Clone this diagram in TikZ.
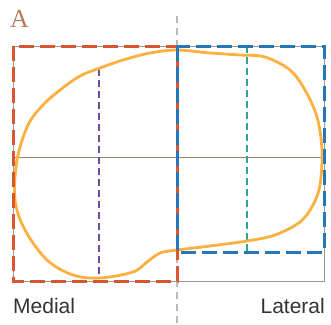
\documentclass[tikz,border=0pt]{standalone}
\usepackage{fontspec}
\setsansfont{Liberation Sans}
\newfontfamily\labelserif{Liberation Serif}
\usetikzlibrary{calc}
\definecolor{medialred}{HTML}{D9572E}
\definecolor{lateralblue}{HTML}{2677BA}
\definecolor{outlineorange}{HTML}{FBB040}
\definecolor{axisbrown}{HTML}{9E7C66}
\definecolor{medpurple}{HTML}{6B4E9B}
\definecolor{latteal}{HTML}{2FA39A}
\definecolor{labelbrown}{HTML}{B47C5C}

\begin{document}
\begin{tikzpicture}[x=1pt, y=-1pt]
    \useasboundingbox (0,0) rectangle (331,324);
    \coordinate (TL) at (13,46);
    \coordinate (BR) at (324,281);
    \coordinate (Mtop) at (177,16);
    \coordinate (Mbot) at (177,324);
    \coordinate (Hl) at (13,157);
    \coordinate (Hr) at (324,157);
    \draw[gray!80, line width=1pt] (TL) rectangle (BR);
    \draw[axisbrown, line width=1pt] (Hl) -- (Hr);
    \draw[gray!55, line width=1.5pt, dash pattern=on 7pt off 5pt] (Mtop) -- (Mbot);
    \draw[medpurple, line width=1.2pt, dash pattern=on 7pt off 4pt] (99,69) -- (99,278);
    \draw[latteal, line width=1.2pt, dash pattern=on 7pt off 4pt] (247,46) -- (247,252);
    \draw[outlineorange, line width=2.8pt] plot[smooth cycle, tension=0.55] coordinates {
        (177,50) (210,53) (240,55) (265,57) (290,70) (305,90) (317,117) (322,150)
        (320,185) (313,205) (300,222) (275,235) (247,241) (210,246) (177,250)
        (160,253) (147,262) (133,272) (100,278) (73,275) (47,260) (25,230)
        (15,200) (17,160) (28,125) (43,105) (60,90) (80,76) (100,68) (123,60) (150,53)};
    \draw[medialred, line width=3pt, dash pattern=on 15pt off 6pt] (13,46) rectangle (177,281);
    \draw[lateralblue, line width=3pt, dash pattern=on 15pt off 6pt] (177,46) rectangle (324,252);
    \node[anchor=base west, inner sep=0pt, text=labelbrown, font=\labelserif\fontsize{26}{30}\selectfont] (lblA) at (10,27) {A};
    \node[anchor=base west, inner sep=0pt, text=black!80, font=\sffamily\fontsize{21}{24}\selectfont] (medial) at (13,313) {Medial};
    \node[anchor=base east, inner sep=0pt, text=black!80, font=\sffamily\fontsize{21}{24}\selectfont] (lateral) at (325,313) {Lateral};
\end{tikzpicture}
\end{document}
